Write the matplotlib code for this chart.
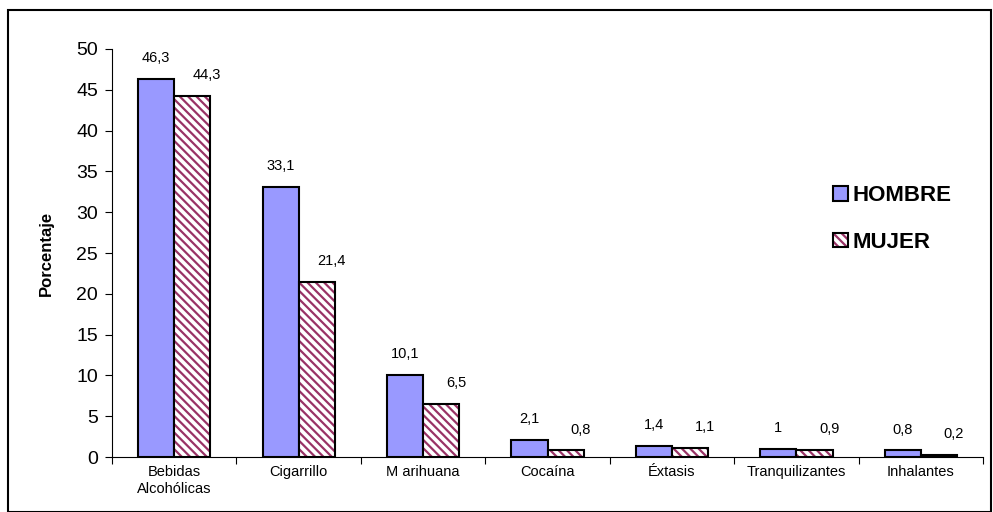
import numpy as np
import matplotlib.pyplot as plt
from matplotlib.patches import Rectangle, Patch
from matplotlib.legend_handler import HandlerTuple

plt.rcParams['font.family'] = ['Liberation Sans', 'DejaVu Sans']
plt.rcParams['hatch.linewidth'] = 1.6

categorias = ['Bebidas\nAlcohólicas', 'Cigarrillo', 'M arihuana', 'Cocaína',
              'Éxtasis', 'Tranquilizantes', 'Inhalantes']
hombre = [46.3, 33.1, 10.1, 2.1, 1.4, 1.0, 0.8]
mujer = [44.3, 21.4, 6.5, 0.8, 1.1, 0.9, 0.2]
etiq_h = ['46,3', '33,1', '10,1', '2,1', '1,4', '1', '0,8']
etiq_m = ['44,3', '21,4', '6,5', '0,8', '1,1', '0,9', '0,2']

azul = '#9999ff'
granate = '#993366'

fig = plt.figure(figsize=(9.93, 5.12), dpi=100)
ax = fig.add_axes([0.1128, 0.1074, 0.8772, 0.7969])

x = np.arange(len(categorias))
w = 0.29
ax.bar(x - w / 2, hombre, w, color=azul, edgecolor='black', linewidth=1.5)
# hatch in maroon, then a black outline on top
ax.bar(x + w / 2, mujer, w, color='white', edgecolor=granate, linewidth=0,
       hatch='\\\\\\\\')
ax.bar(x + w / 2, mujer, w, fill=False, edgecolor='black', linewidth=1.5)

for i in range(len(categorias)):
    ax.annotate(etiq_h[i], (x[i] - w / 2, hombre[i]), xytext=(0, 10),
                textcoords='offset points', ha='center', va='bottom', fontsize=10.5)
    ax.annotate(etiq_m[i], (x[i] + w / 2 + 0.12, mujer[i]), xytext=(0, 10),
                textcoords='offset points', ha='center', va='bottom', fontsize=10.5)

ax.set_xlim(-0.5, len(categorias) - 0.5)
ax.set_ylim(0, 50)
ax.set_yticks(range(0, 51, 5))
ax.tick_params(axis='y', labelsize=14, length=5, width=0.8, pad=5)
ax.set_xticks(x)
ax.set_xticklabels(categorias, fontsize=10.5)
ax.tick_params(axis='x', length=0, pad=6)
ax.set_xticks(np.arange(-0.5, len(categorias), 1), minor=True)
ax.tick_params(axis='x', which='minor', length=5, width=0.8)
ax.spines['top'].set_visible(False)
ax.spines['right'].set_visible(False)
ax.spines['left'].set_linewidth(0.8)
ax.spines['bottom'].set_linewidth(0.8)
ax.set_ylabel('Porcentaje', fontsize=12, fontweight='bold', labelpad=16)

h_hombre = Patch(facecolor=azul, edgecolor='black', linewidth=1.5)
h_mujer = (Patch(facecolor='white', edgecolor=granate, linewidth=0, hatch='\\\\\\\\'),
           Patch(fill=False, edgecolor='black', linewidth=1.5))
ax.legend([h_hombre, h_mujer], ['HOMBRE', 'MUJER'], loc='upper left',
          bbox_to_anchor=(0.805, 0.715), frameon=False,
          prop={'weight': 'bold', 'size': 16}, handlelength=0.65, handleheight=0.65,
          handletextpad=0.2, labelspacing=1.15,
          handler_map={tuple: HandlerTuple(ndivide=1)})

fig.patches.append(Rectangle((8 / 993, 0), 983 / 993, 502 / 512, transform=fig.transFigure,
                             fill=False, edgecolor='black', linewidth=1.5))

fig.savefig('out.png', dpi=100)
